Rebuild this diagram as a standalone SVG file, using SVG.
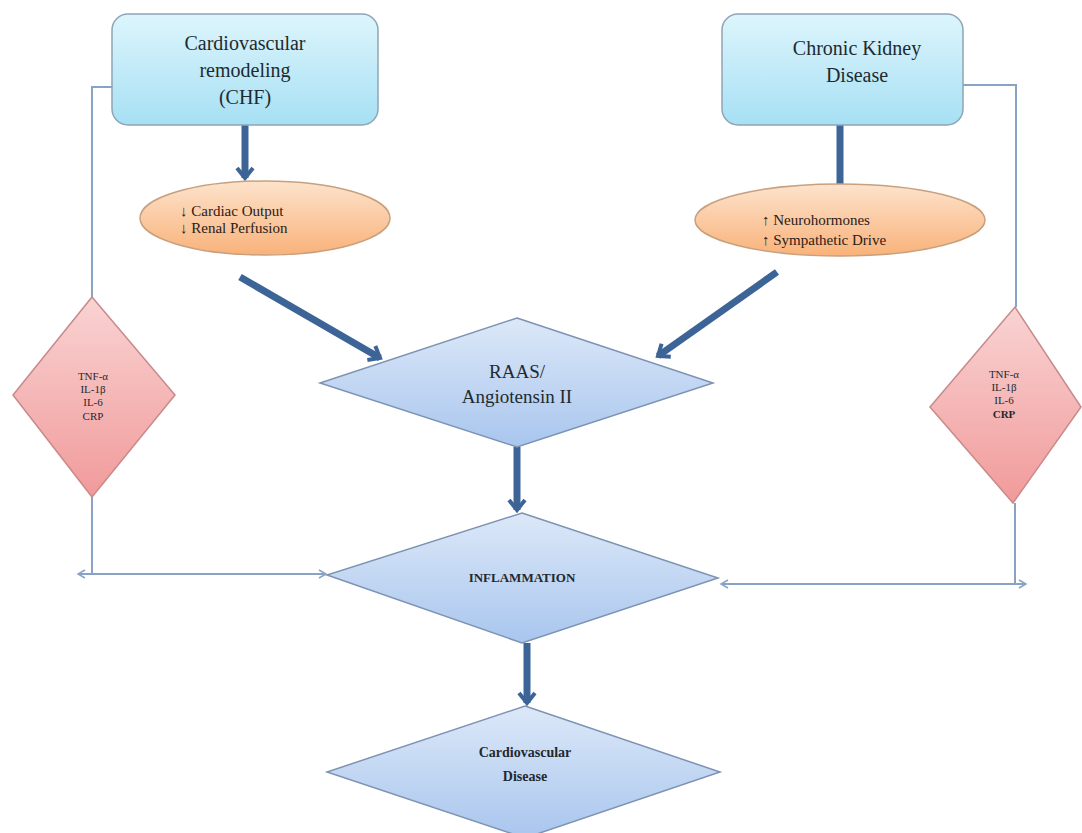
<svg xmlns="http://www.w3.org/2000/svg" width="1082" height="833" viewBox="0 0 1082 833">
<defs>
<linearGradient id="gBox" x1="0" y1="0" x2="0" y2="1"><stop offset="0" stop-color="#DDF5FC"/><stop offset="1" stop-color="#A6E0F4"/></linearGradient>
<linearGradient id="gEll" x1="0" y1="0" x2="0" y2="1"><stop offset="0" stop-color="#FDE3CC"/><stop offset="1" stop-color="#F9B27A"/></linearGradient>
<linearGradient id="gBlue" x1="0" y1="0" x2="0" y2="1"><stop offset="0" stop-color="#DCE8F8"/><stop offset="1" stop-color="#A9C6EE"/></linearGradient>
<linearGradient id="gRed" x1="0" y1="0" x2="0" y2="1"><stop offset="0" stop-color="#F9D3D3"/><stop offset="1" stop-color="#F19A9A"/></linearGradient>
<marker id="ahThick" markerWidth="16" markerHeight="20" refX="12" refY="10" orient="auto" markerUnits="userSpaceOnUse"><path d="M2,2 L12,10 L2,18" fill="none" stroke="#3C6496" stroke-width="4"/></marker>
<marker id="ahThin" markerWidth="10" markerHeight="10" refX="8" refY="5" orient="auto-start-reverse" markerUnits="userSpaceOnUse"><path d="M1,1 L8,5 L1,9" fill="none" stroke="#8AA3C4" stroke-width="1.5"/></marker>
</defs>
<style>
.box{fill:url(#gBox);stroke:#8FA5B5;stroke-width:1.5}
.ell{fill:url(#gEll);stroke:#C8A07E;stroke-width:1.5}
.bd{fill:url(#gBlue);stroke:#7E93B3;stroke-width:1.5}
.rd{fill:url(#gRed);stroke:#C88A8A;stroke-width:1.5}
.t{font-family:"Liberation Serif",serif;fill:#1E2A30;text-anchor:middle}
.tl{font-family:"Liberation Serif",serif;fill:#2A2018}
.thick{stroke:#3C6496;stroke-width:7;fill:none}
.thin{stroke:#8AA3C4;stroke-width:2;fill:none}
</style>
<rect width="1082" height="833" fill="#FFFFFF"/>
<g id="connectors">
<line class="thick" x1="245" y1="125" x2="245" y2="178" marker-end="url(#ahThick)"/>
<line class="thick" x1="840" y1="125" x2="840" y2="185"/>
<line class="thick" x1="240" y1="277" x2="380" y2="358" marker-end="url(#ahThick)" stroke-width="5"/>
<line class="thick" x1="777" y1="272" x2="658" y2="356" marker-end="url(#ahThick)" stroke-width="5"/>
<line class="thick" x1="517" y1="447" x2="517" y2="510" marker-end="url(#ahThick)"/>
<line class="thick" x1="527" y1="643" x2="527" y2="703" marker-end="url(#ahThick)"/>
<polyline class="thin" points="112,87 92,87 92,297"/>
<line class="thin" x1="92" y1="497" x2="92" y2="574"/>
<line class="thin" x1="78" y1="574" x2="326" y2="574" marker-start="url(#ahThin)" marker-end="url(#ahThin)"/>
<polyline class="thin" points="963,85 1016,85 1016,307"/>
<line class="thin" x1="1015" y1="503" x2="1015" y2="583"/>
<line class="thin" x1="721" y1="584" x2="1026" y2="584" marker-start="url(#ahThin)" marker-end="url(#ahThin)"/>
</g>
<g id="cv-remodeling">
<rect class="box" x="112" y="14" width="266" height="111" rx="16"/>
<text class="t" x="245" y="50" font-size="20">Cardiovascular</text>
<text class="t" x="245" y="77" font-size="20">remodeling</text>
<text class="t" x="245" y="104" font-size="20">(CHF)</text>
</g>
<g id="ckd">
<rect class="box" x="722" y="14" width="241" height="111" rx="16"/>
<text class="t" x="857" y="55" font-size="20">Chronic Kidney</text>
<text class="t" x="857" y="82" font-size="20">Disease</text>
</g>
<g id="cardiac-output">
<ellipse class="ell" cx="265" cy="218" rx="125" ry="37"/>
<text class="tl" x="180" y="216" font-size="15">↓ Cardiac Output</text>
<text class="tl" x="180" y="233" font-size="15">↓ Renal Perfusion</text>
</g>
<g id="neurohormones">
<ellipse class="ell" cx="840" cy="220" rx="145" ry="36"/>
<text class="tl" x="762" y="225" font-size="15">↑ Neurohormones</text>
<text class="tl" x="762" y="245" font-size="15">↑ Sympathetic Drive</text>
</g>
<g id="raas">
<polygon class="bd" points="517,318 713,383 517,447 320,383"/>
<text class="t" x="517" y="378" font-size="19">RAAS/</text>
<text class="t" x="517" y="403" font-size="19">Angiotensin II</text>
</g>
<g id="inflammation">
<polygon class="bd" points="522,513 718,578 522,643 327,575"/>
<text class="t" x="522" y="582" font-size="13" font-weight="bold">INFLAMMATION</text>
</g>
<g id="cvd">
<polygon class="bd" points="525,706 720,772 525,838 327,772"/>
<text class="t" x="525" y="757" font-size="14" font-weight="bold">Cardiovascular</text>
<text class="t" x="525" y="781" font-size="14" font-weight="bold">Disease</text>
</g>
<g id="cytokines-left">
<polygon class="rd" points="92,297 175,395 92,497 13,395"/>
<text class="t" x="93" y="380" font-size="11">TNF-α</text>
<text class="t" x="93" y="393" font-size="11">IL-1β</text>
<text class="t" x="93" y="406" font-size="11">IL-6</text>
<text class="t" x="93" y="420" font-size="11">CRP</text>
</g>
<g id="cytokines-right">
<polygon class="rd" points="1015,307 1081,407 1013,503 930,407"/>
<text class="t" x="1004" y="378" font-size="11">TNF-α</text>
<text class="t" x="1004" y="391" font-size="11">IL-1β</text>
<text class="t" x="1004" y="404" font-size="11">IL-6</text>
<text class="t" x="1004" y="418" font-size="11" font-weight="bold">CRP</text>
</g>
</svg>
